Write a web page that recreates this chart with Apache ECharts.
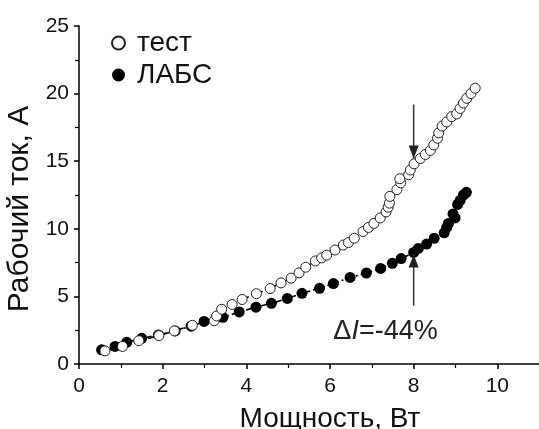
<!DOCTYPE html>
<html><head><meta charset="utf-8">
<script src="https://cdn.jsdelivr.net/npm/echarts@6/dist/echarts.min.js"></script>
<style>html,body{margin:0;padding:0;background:#fff}#c{width:539px;height:429px}</style>
</head><body><div id="c"></div>
<script>
// Test series (open circles): [power W, current A]
var testX = [0.62,1.04,1.43,1.91,2.28,2.71,3.23,3.29,3.41,3.66,3.90,4.24,4.57,4.83,5.07,5.26,5.42,5.65,5.80,5.92,6.12,6.32,6.44,6.58,6.79,6.92,7.05,7.20,7.34,7.39,7.42,7.43,7.60,7.69,7.67,7.88,7.92,8.01,8.16,8.28,8.40,8.48,8.57,8.60,8.68,8.79,8.91,9.03,9.11,9.19,9.27,9.37,9.47];
var testY = [0.97,1.30,1.72,2.10,2.45,2.86,3.20,3.55,4.05,4.40,4.77,5.20,5.58,6.00,6.35,6.74,7.16,7.62,7.85,8.05,8.43,8.80,8.98,9.30,9.80,10.10,10.40,10.80,11.25,11.60,11.90,12.40,12.90,13.40,13.70,14.00,14.35,14.80,15.20,15.50,15.80,16.20,16.70,17.10,17.60,17.90,18.30,18.50,18.90,19.30,19.65,20.00,20.40];
// ЛАБС series (filled circles)
var labsX = [0.54,0.86,1.14,1.50,1.90,2.30,2.68,2.99,3.44,3.83,4.23,4.60,4.98,5.33,5.75,6.08,6.48,6.87,7.21,7.49,7.70,8.00,8.11,8.31,8.49,8.73,8.79,8.83,8.99,8.94,9.05,9.11,9.19,9.26];
var labsY = [1.05,1.30,1.60,1.90,2.15,2.45,2.80,3.15,3.45,3.85,4.20,4.49,4.85,5.23,5.60,5.95,6.40,6.73,7.07,7.45,7.80,8.25,8.55,8.87,9.30,9.70,10.10,10.40,10.80,11.10,11.80,12.10,12.50,12.70];
var xTicks = [0,2,4,6,8,10];
var yTicks = [0,5,10,15,20,25];
// annotation arrows (data coords): [start, tip]
var arrowDown = [[8,19.2],[8,15.2]];
var arrowUp = [[8,4.3],[8,8.1]];
var annotText = {x:6.08, y:2.37};

function zip(a,b){return a.map(function(v,i){return [v,b[i]];});}
function arrowData(a, rot){
  return [{value:a[0],symbol:'none'},
          {value:a[1],symbol:'triangle',symbolSize:[10,13],symbolRotate:rot,
           symbolOffset:[0, rot===180?'-50%':'50%']}];
}
var FONT = '"Liberation Sans", Arial, sans-serif';
var chart = echarts.init(document.getElementById('c'));
var dash = [7,3,2,3];
var arrowStyle = {type:'line',symbol:'none',silent:true,z:4,
  lineStyle:{color:'#333',width:1.5,type:'solid'},itemStyle:{color:'#222'}};
chart.setOption({
  animation:false,
  backgroundColor:'#fff',
  grid:{left:79,right:-42,top:26,bottom:65,containLabel:false,outerBoundsMode:'none'},
  legend:{
    orient:'vertical', left:111, top:29, padding:0, itemWidth:13, itemHeight:13, itemGap:4,
    icon:'circle',
    textStyle:{fontFamily:FONT,fontSize:28,color:'#111',lineHeight:28,padding:[0,0,0,7]},
    data:['тест','ЛАБС']
  },
  xAxis:{
    type:'value', min:0, max:12, interval:2,
    name:'Мощность, Вт', nameLocation:'middle', nameGap:41,
    nameTextStyle:{fontFamily:FONT,fontSize:28,color:'#111'},
    axisLine:{lineStyle:{color:'#000',width:1.5}},
    axisTick:{length:5,lineStyle:{color:'#000',width:1.5}},
    minorTick:{show:true,splitNumber:2,length:4,lineStyle:{color:'#000',width:1.2}},
    splitLine:{show:false},
    axisLabel:{fontFamily:FONT,fontSize:21,color:'#111',margin:12,
      formatter:function(v){return xTicks.indexOf(v)>=0?String(v):'';}}
  },
  yAxis:{
    type:'value', min:0, max:25, interval:5,
    name:'Рабочий ток, А', nameLocation:'middle', nameGap:42,
    nameTextStyle:{fontFamily:FONT,fontSize:30,color:'#111',padding:[0,28,0,0]},
    axisLine:{show:true,lineStyle:{color:'#000',width:1.5}},
    axisTick:{show:true,length:5,lineStyle:{color:'#000',width:1.5}},
    minorTick:{show:true,splitNumber:2,length:4,lineStyle:{color:'#000',width:1.2}},
    splitLine:{show:false},
    axisLabel:{fontFamily:FONT,fontSize:21,color:'#111',margin:10,
      formatter:function(v){return yTicks.indexOf(v)>=0?String(v):'';}}
  },
  series:[
    {name:'ЛАБС',type:'line',data:zip(labsX,labsY),symbol:'circle',symbolSize:11,
     itemStyle:{color:'#000',borderColor:'#000',borderWidth:0},
     lineStyle:{color:'#000',width:1.6,type:dash},z:2},
    {name:'тест',type:'line',data:zip(testX,testY),symbol:'circle',symbolSize:10,
     itemStyle:{color:'#fff',borderColor:'#222',borderWidth:1},
     lineStyle:{color:'#000',width:1.6,type:dash},z:3},
    Object.assign({name:'arrow1',data:arrowData(arrowDown,180)},arrowStyle),
    Object.assign({name:'arrow2',data:arrowData(arrowUp,0)},arrowStyle)
  ]
});
var p = chart.convertToPixel({gridIndex:0},[annotText.x,annotText.y]);
chart.setOption({graphic:[{type:'text',x:p[0],y:p[1],style:{
  text:'{a|Δ}{b|I}{a|=-44%}',verticalAlign:'middle',align:'left',
  rich:{a:{fontFamily:FONT,fontSize:27,fill:'#222'},b:{fontFamily:FONT,fontSize:27,fontStyle:'italic',fill:'#222'}}
}}]});
</script></body></html>
